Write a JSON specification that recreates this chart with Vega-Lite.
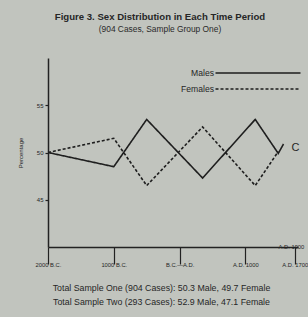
{
  "$schema": "https://vega.github.io/schema/vega-lite/v6.json",
  "width": 250,
  "height": 189,
  "autosize": {"type": "none"},
  "padding": {"left": 48, "top": 58, "right": 10, "bottom": 70},
  "background": "#c1c4be",
  "config": {
    "view": {"stroke": null},
    "font": "Liberation Sans",
    "axis": {
      "domainColor": "#222222",
      "domainWidth": 1.5,
      "tickColor": "#222222",
      "tickWidth": 1.2,
      "labelColor": "#262626",
      "titleColor": "#262626",
      "grid": false
    }
  },
  "title": {
    "text": "Figure 3. Sex Distribution in Each Time Period",
    "subtitle": "(904 Cases, Sample Group One)",
    "fontSize": 9.6,
    "fontWeight": "bold",
    "subtitleFontSize": 8.4,
    "subtitlePadding": 3,
    "anchor": "middle",
    "frame": "group",
    "dx": -13,
    "offset": 25,
    "color": "#262626",
    "subtitleColor": "#2a2a2a"
  },
  "datasets": {
    "series": [
      {"year": -2000, "pct": 50.0, "sex": "Males"},
      {"year": -1000, "pct": 48.5, "sex": "Males"},
      {"year": -500, "pct": 53.5, "sex": "Males"},
      {"year": 350, "pct": 47.3, "sex": "Males"},
      {"year": 1150, "pct": 53.5, "sex": "Males"},
      {"year": 1500, "pct": 49.9, "sex": "Males"},
      {"year": 1580, "pct": 50.9, "sex": "Males"},
      {"year": -2000, "pct": 50.0, "sex": "Females"},
      {"year": -1000, "pct": 51.5, "sex": "Females"},
      {"year": -500, "pct": 46.5, "sex": "Females"},
      {"year": 350, "pct": 52.7, "sex": "Females"},
      {"year": 1150, "pct": 46.5, "sex": "Females"},
      {"year": 1500, "pct": 50.1, "sex": "Females"}
    ],
    "notes": [
      {"year": 1700, "pct": 40, "label": "A.D. 1900", "kind": "axis"},
      {"year": 1760, "pct": 50.5, "label": "C", "kind": "mark"}
    ]
  },
  "layer": [
    {
      "data": {"name": "series"},
      "mark": {"type": "line", "strokeWidth": 1.6, "color": "#1e1e1e"},
      "encoding": {
        "x": {
          "field": "year",
          "type": "quantitative",
          "scale": {"domain": [-2000, 1800], "nice": false, "zero": false},
          "axis": {
            "values": [-2000, -1500, -1000, -500, 0, 500, 1000, 1500, 1750],
            "labelExpr": "datum.value == -2000 ? '2000 B.C.' : datum.value == -1500 ? '1500 B.C.' : datum.value == -1000 ? '1000 B.C.' : datum.value == -500 ? '500 B.C.' : datum.value == 0 ? 'B.C.—A.D.' : datum.value == 500 ? 'A.D. 500' : datum.value == 1000 ? 'A.D. 1000' : datum.value == 1500 ? 'A.D. 1500' : 'A.D. 1700'",
            "tickSize": {"condition": {"test": "datum.value % 1000 === 0 || datum.value === 1750", "value": 17}, "value": 4},
            "labelPadding": {"condition": {"test": "datum.value % 1000 === 0 || datum.value === 1750", "value": -3}, "value": 1},
            "labelFontSize": 5.8,
            "labelOverlap": false,
            "labelBound": false,
            "labelFlush": false,
            "title": ["Total Sample One (904 Cases): 50.3 Male, 49.7 Female", "Total Sample Two (293 Cases): 52.9 Male, 47.1 Female"],
            "titleFontSize": 8.8,
            "titleFontWeight": "normal",
            "titleLineHeight": 14,
            "titleX": 113,
            "titleY": 36,
            "titleAlign": "center",
            "titleBaseline": "top"
          }
        },
        "y": {
          "field": "pct",
          "type": "quantitative",
          "scale": {"domain": [40, 60], "nice": false, "zero": false},
          "axis": {
            "values": [45, 50, 55],
            "title": "Percentage",
            "titleFontSize": 6,
            "titleFontWeight": "normal",
            "titlePadding": 13,
            "tickSize": 3,
            "labelFontSize": 6,
            "labelPadding": 2
          }
        },
        "strokeDash": {
          "field": "sex",
          "type": "nominal",
          "scale": {"domain": ["Males", "Females"], "range": [[1, 0], [3, 2]]},
          "legend": {
            "orient": "none",
            "legendX": 204,
            "legendY": 9,
            "title": null,
            "padding": 0,
            "rowPadding": 5,
            "symbolType": "M-8.5,0H8.5",
            "symbolSize": 100,
            "symbolStrokeWidth": 1.6,
            "symbolStrokeColor": "#1e1e1e",
            "labelAlign": "right",
            "labelOffset": -50,
            "labelFontSize": 8.6,
            "labelColor": "#262626"
          }
        }
      }
    },
    {
      "data": {"name": "notes"},
      "mark": {"type": "text", "color": "#262626"},
      "encoding": {
        "x": {"field": "year", "type": "quantitative"},
        "y": {"field": "pct", "type": "quantitative"},
        "text": {"field": "label"},
        "size": {"field": "kind", "type": "nominal", "scale": {"domain": ["axis", "mark"], "range": [5.8, 11]}, "legend": null},
        "yOffset": {"field": "kind", "type": "nominal", "scale": {"domain": ["axis", "mark"], "range": [-5, 0]}, "legend": null}
      }
    }
  ]
}
